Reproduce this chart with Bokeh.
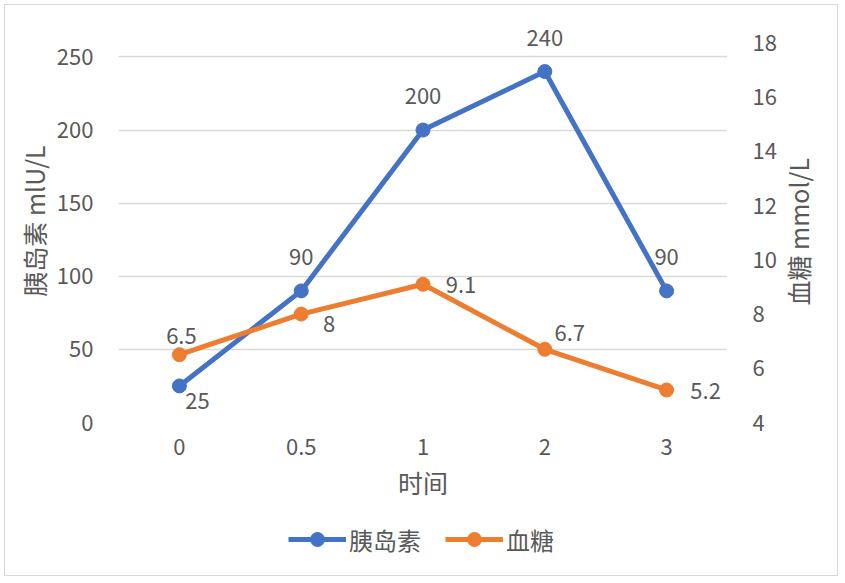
import math
from bokeh.plotting import figure
from bokeh.layouts import column, row
from bokeh.models import (FactorRange, Range1d, LinearAxis, FixedTicker, ColumnDataSource,
                          Legend, LegendItem, Label)
from bokeh.core.properties import value
from bokeh.embed import file_html
from bokeh.resources import INLINE

# ---- data ----
times = ["0", "0.5", "1", "2", "3"]
insulin = [25, 90, 200, 240, 90]
glucose = [6.5, 8, 9.1, 6.7, 5.2]
left_ticks = [0, 50, 100, 150, 200, 250]
right_ticks = [4, 6, 8, 10, 12, 14, 16, 18]
series_names = ["胰岛素", "血糖"]
right_title = "血糖 mmol/L"

# ---- styles ----
BLUE = "#4472C4"
ORANGE = "#ED7D31"
TXT = "#595959"
GRID = "#D9D9D9"
FONT = "Noto Sans CJK SC"

MAIN_W, MAIN_H, SIDE_W, LEG_H = 775, 505, 57, 65

p = figure(width=MAIN_W, height=MAIN_H, x_range=FactorRange(*times, range_padding=0),
           y_range=Range1d(0, 275.6), output_backend="svg", toolbar_location=None,
           min_border_left=113, min_border_right=53, min_border_top=14,
           min_border_bottom=88)
p.outline_line_color = None
p.background_fill_color = "white"
p.border_fill_color = "white"

p.extra_y_ranges = {"bg": Range1d(4, 18.87)}

# grid
p.xgrid.grid_line_color = None
p.ygrid.grid_line_color = GRID
p.ygrid.grid_line_width = 1.3
p.yaxis.ticker = FixedTicker(ticks=left_ticks)

def style_axis(ax):
    ax.axis_line_color = None
    ax.major_tick_line_color = None
    ax.minor_tick_line_color = None
    ax.major_label_text_font = FONT
    ax.major_label_text_font_size = "22px"
    ax.major_label_text_color = TXT
    ax.axis_label_text_font = FONT
    ax.axis_label_text_font_size = "25px"
    ax.axis_label_text_color = TXT
    ax.axis_label_text_font_style = "normal"

# left axis
ax_l = p.yaxis[0]
style_axis(ax_l)
ax_l.axis_label = "胰岛素 mlU/L"
ax_l.major_label_standoff = 19
ax_l.axis_label_standoff = 2

# bottom axis
ax_b = p.xaxis[0]
style_axis(ax_b)
ax_b.axis_label = "时间"
ax_b.major_label_standoff = 10
ax_b.axis_label_standoff = 6

# right axis (tick labels); its title is drawn in a side strip
ax_r = LinearAxis(y_range_name="bg", ticker=FixedTicker(ticks=right_ticks))
style_axis(ax_r)
ax_r.major_label_standoff = 19
p.add_layout(ax_r, "right")

# series
src_i = ColumnDataSource(dict(x=times, y=insulin, t=[str(v) for v in insulin],
                              dx=[18, 0, 0, 0, 0], dy=[15, -34, -34, -34, -34]))
src_g = ColumnDataSource(dict(x=times, y=glucose, t=[("%g" % v) for v in glucose],
                              dx=[2, 28, 38, 25, 39], dy=[-19, 10, 1, -16, 1]))

p.line("x", "y", source=src_i, line_color=BLUE, line_width=5)
p.scatter("x", "y", source=src_i, size=14, fill_color=BLUE, line_color=BLUE)
p.line("x", "y", source=src_g, line_color=ORANGE, line_width=5, y_range_name="bg")
p.scatter("x", "y", source=src_g, size=14, fill_color=ORANGE, line_color=ORANGE,
          y_range_name="bg")

p.text("x", "y", text="t", source=src_i, x_offset="dx", y_offset="dy",
       text_align="center", text_baseline="middle", text_font=value(FONT),
       text_font_size="22px", text_color=TXT)
p.text("x", "y", text="t", source=src_g, x_offset="dx", y_offset="dy",
       text_align="center", text_baseline="middle", text_font=value(FONT),
       text_font_size="22px", text_color=TXT, y_range_name="bg")

# right title strip (text reads bottom-to-top)
rf = figure(width=SIDE_W, height=MAIN_H, x_range=Range1d(0, SIDE_W),
            y_range=Range1d(0, MAIN_H), output_backend="svg", toolbar_location=None,
            min_border=0)
rf.axis.visible = False
rf.grid.visible = False
rf.outline_line_color = None
rf.add_layout(Label(x=17, y=239, text=right_title, angle=math.pi / 2,
                    text_align="center", text_baseline="middle", text_font=FONT,
                    text_font_size="25px", text_color=TXT))

# legend strip
lf = figure(width=MAIN_W + SIDE_W, height=LEG_H, x_range=Range1d(0, 10),
            y_range=Range1d(0, 10), output_backend="svg", toolbar_location=None,
            min_border=0, min_border_bottom=7)
lf.axis.visible = False
lf.grid.visible = False
lf.outline_line_color = None
hidden = ColumnDataSource(dict(x=[-50, -40], y=[-50, -50]))
items = []
for name, col in zip(series_names, [BLUE, ORANGE]):
    r1 = lf.line("x", "y", source=hidden, line_color=col, line_width=5)
    r2 = lf.scatter("x", "y", source=hidden, size=14, fill_color=col, line_color=col)
    items.append(LegendItem(label=name, renderers=[r1, r2]))
legend = Legend(items=items, orientation="horizontal", location="center")
legend.glyph_width = 58
legend.glyph_height = 35
legend.label_text_font = FONT
legend.label_text_font_size = "24px"
legend.label_text_color = TXT
legend.label_standoff = 3
legend.spacing = 24
legend.padding = 0
legend.margin = 0
legend.border_line_color = None
legend.background_fill_alpha = 0
lf.add_layout(legend, "center")

page = column(row(p, rf, spacing=0), lf, spacing=0)
page.styles = {"border": "1px solid #D9D9D9", "margin": "4px 0 0 4px"}

open("out.html", "w").write(file_html(page, INLINE))
